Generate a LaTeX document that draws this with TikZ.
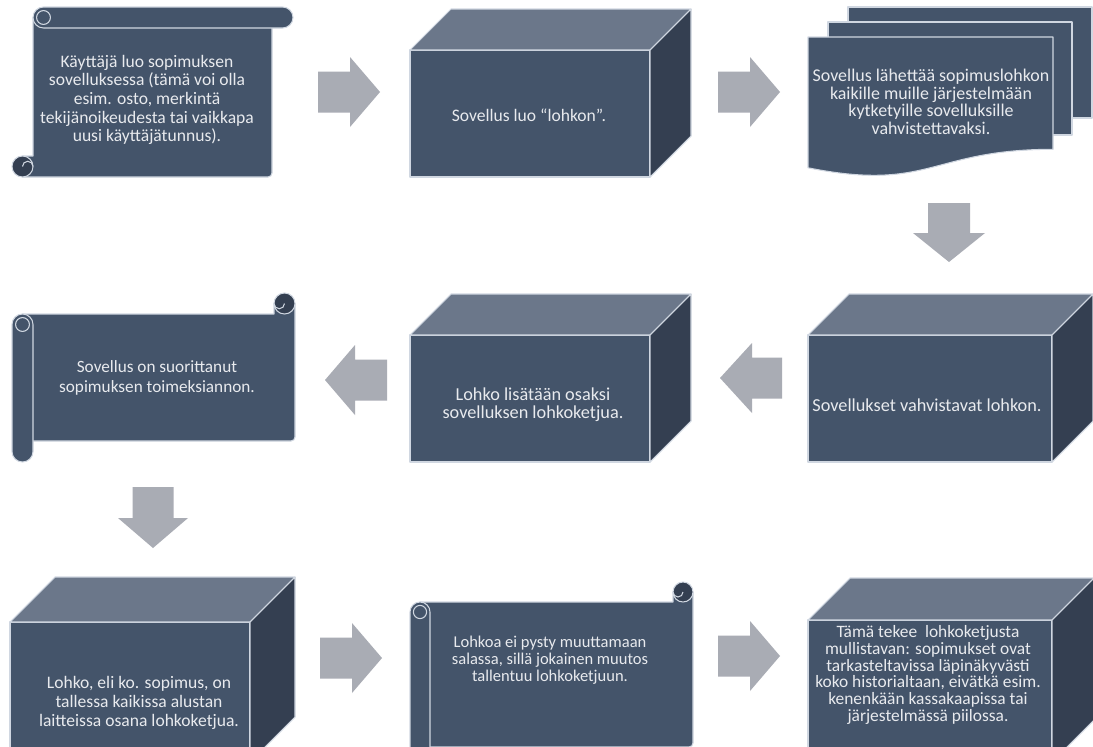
\documentclass[tikz,border=0pt]{standalone}
\usepackage{fontspec}
\setmainfont{Carlito}
\definecolor{bfill}{HTML}{44546A}
\definecolor{btop}{HTML}{6B778A}
\definecolor{bside}{HTML}{343F51}
\definecolor{bline}{HTML}{D0D7E1}
\definecolor{arr}{HTML}{A9ACB4}
\definecolor{txt}{HTML}{E8EAEE}
\tikzset{
  shp/.style={fill=bfill, draw=bline, line width=0.6pt, line join=round},
  topf/.style={fill=btop, draw=bline, line width=0.6pt, line join=round},
  sidef/.style={fill=bside, draw=bline, line width=0.6pt, line join=round},
  darkf/.style={fill=bside, draw=bline, line width=0.6pt},
  curl/.style={draw=bline, line width=0.6pt},
  arrowshape/.style={fill=arr, draw=none},
  lbl/.style={text=txt, align=center, font=\fontsize{10}{10.6}\selectfont, inner sep=0pt},
}
\newcommand{\blkcube}[5]{%
  \draw[shp] (#1,#2) rectangle (#3,#4);
  \draw[topf] (#1,#2) -- ({#1+#5},{#2-#5}) -- ({#3+#5},{#2-#5}) -- (#3,#2) -- cycle;
  \draw[sidef] (#3,#2) -- ({#3+#5},{#2-#5}) -- ({#3+#5},{#4-#5}) -- (#3,#4) -- cycle;
}
\newcommand{\hrarrow}[6]{% x0 x1 x2 yc h1 h2
  \fill[arrowshape] (#1,{#4-#5}) -- (#2,{#4-#5}) -- (#2,{#4-#6}) -- (#3,#4) -- (#2,{#4+#6}) -- (#2,{#4+#5}) -- (#1,{#4+#5}) -- cycle;
}
\newcommand{\dnarrow}[6]{% xc y0 y1 y2 w1 w2
  \fill[arrowshape] ({#1-#5},#2) -- ({#1-#5},#3) -- ({#1-#6},#3) -- (#1,#4) -- ({#1+#6},#3) -- ({#1+#5},#3) -- ({#1+#5},#2) -- cycle;
}
\newcommand{\hscroll}[5]{%
  \pgfmathsetmacro{\sL}{#1}\pgfmathsetmacro{\sT}{#2}\pgfmathsetmacro{\sR}{#3}%
  \pgfmathsetmacro{\sB}{#4}\pgfmathsetmacro{\sC}{#5}\pgfmathsetmacro{\sCh}{#5/2}%
  \pgfmathsetmacro{\sCq}{#5/4}\pgfmathsetmacro{\sCc}{#5*0.33}%
  \draw[shp] ({\sL+\sCh},{\sT+\sC}) -- ({\sR-\sC},{\sT+\sC}) -- ({\sR-\sC},{\sT+\sCh}) -- (\sR,{\sT+\sCh}) -- (\sR,{\sB-\sC-4}) arc[start angle=0,end angle=90,radius=4] -- ({\sL+\sCh},{\sB-\sC}) -- cycle;
  \draw[darkf] ({\sR-\sCh},{\sT+\sCh}) circle[radius=\sCh];
  \draw[curl] ({\sR-\sCh},{\sT+\sCh}) arc[start angle=0,end angle=180,radius=\sCq];
  \draw[shp] (\sL,{\sT+\sC+\sCh}) arc[start angle=180,end angle=360,radius=\sCh] -- ({\sL+\sC},{\sB-\sCh}) arc[start angle=0,end angle=180,radius=\sCh] -- cycle;
  \draw[curl] ({\sL+\sCh},{\sT+\sC+\sCh}) circle[radius=\sCc];
}
\newcommand{\vscroll}[5]{%
  \pgfmathsetmacro{\sL}{#1}\pgfmathsetmacro{\sT}{#2}\pgfmathsetmacro{\sR}{#3}%
  \pgfmathsetmacro{\sB}{#4}\pgfmathsetmacro{\sC}{#5}\pgfmathsetmacro{\sCh}{#5/2}%
  \pgfmathsetmacro{\sCq}{#5/4}\pgfmathsetmacro{\sCc}{#5*0.33}%
  \draw[shp] ({\sL+\sC},{\sT+\sCh}) -- ({\sR-\sC},{\sT+\sCh}) -- ({\sR-\sC},{\sB-4}) arc[start angle=0,end angle=90,radius=4] -- ({\sL+\sCh},\sB) -- ({\sL+\sCh},{\sB-\sC}) -- ({\sL+\sC},{\sB-\sC}) -- cycle;
  \draw[darkf] ({\sL+\sCh},{\sB-\sCh}) circle[radius=\sCh];
  \draw[curl] ({\sL+\sCh},{\sB-\sCh}) arc[start angle=180,end angle=360,radius=\sCq];
  \draw[shp] ({\sL+\sC+\sCh},\sT) -- ({\sR-\sCh},\sT) arc[start angle=270,end angle=450,radius=\sCh] -- ({\sL+\sC+\sCh},{\sT+\sC}) arc[start angle=90,end angle=270,radius=\sCh] -- cycle;
  \draw[curl] ({\sL+\sC+\sCh},{\sT+\sCh}) circle[radius=\sCc];
}
\begin{document}
\begin{tikzpicture}[x=0.02cm,y=-0.02cm]
\useasboundingbox (0,0) rectangle (1093,747);
\clip (0,0) rectangle (1093,747);
\fill[white] (0,0) rectangle (1093,747);

% ---- row 1 ----
\vscroll{12}{7}{293}{177}{21}
\node[lbl] (t1) at (147,100) {Käyttäjä luo sopimuksen\\sovelluksessa (tämä voi olla\\esim. osto, merkintä\\tekijänoikeudesta tai vaikkapa\\uusi käyttäjätunnus).};

\hrarrow{318}{350}{380}{92}{20.5}{35}

\blkcube{410}{50}{650}{177}{41}
\node[lbl] (t2) at (529,115) {Sovellus luo “lohkon”.};

\hrarrow{718}{750}{780}{92}{20.5}{35}

\draw[shp] (848,7) rectangle (1092,118);
\draw[shp] (828,22) rectangle (1072,135);
\draw[shp] (808,37) -- (1053,37) -- (1053,149.3) .. controls (930.5,149.3) and (930.5,192.2) .. (808,167.8) -- cycle;
\node[lbl, font=\fontsize{10.2}{10}\selectfont] (t3) at (931,102) {Sovellus lähettää sopimuslohkon\\kaikille muille järjestelmään\\kytketyille sovelluksille\\vahvistettavaksi.};

\dnarrow{949}{203}{233}{262}{21}{36}

% ---- row 2 ----
\blkcube{808}{335}{1052}{462}{41}
\node[lbl, font=\fontsize{10.4}{10.6}\selectfont] (t6) at (927,405) {Sovellukset vahvistavat lohkon.};

\hrarrow{782}{752}{720}{378}{20.5}{35}

\blkcube{410}{335}{650}{462}{41}
\node[lbl, font=\fontsize{10.4}{10}\selectfont] (t5) at (533,405) {Lohko lisätään osaksi\\sovelluksen lohkoketjua.};

\hrarrow{387}{355}{325}{380}{20.5}{35}

\hscroll{12}{293}{295}{462}{21}
\node[lbl, font=\fontsize{9.8}{11}\selectfont] (t4) at (157,378) {Sovellus on suorittanut\\sopimuksen toimeksiannon.};

\dnarrow{153}{487}{518}{548}{20.5}{35}

% ---- row 3 ----
\blkcube{10}{622}{250}{762}{45}
\node[lbl, font=\fontsize{10}{11}\selectfont] (t7) at (139,703) {Lohko, eli ko. sopimus, on\\tallessa kaikissa alustan\\laitteissa osana lohkoketjua.};

\hrarrow{320}{352}{382}{658}{20.5}{35}

\hscroll{410}{582}{693}{767}{20}
\node[lbl, font=\fontsize{9.4}{9.7}\selectfont] (t8) at (550,660) {Lohkoa ei pysty muuttamaan\\salassa, sillä jokainen muutos\\tallentuu lohkoketjuun.};

\hrarrow{718}{750}{780}{656}{20.5}{35}

\blkcube{808}{620}{1052}{762}{42}
\node[lbl, font=\fontsize{9.9}{9.5}\selectfont] (t9) at (928,675) {Tämä tekee \ lohkoketjusta\\mullistavan: sopimukset ovat\\tarkasteltavissa läpinäkyvästi\\koko historialtaan, eivätkä esim.\\kenenkään kassakaapissa tai\\järjestelmässä piilossa.};
\end{tikzpicture}
\end{document}
